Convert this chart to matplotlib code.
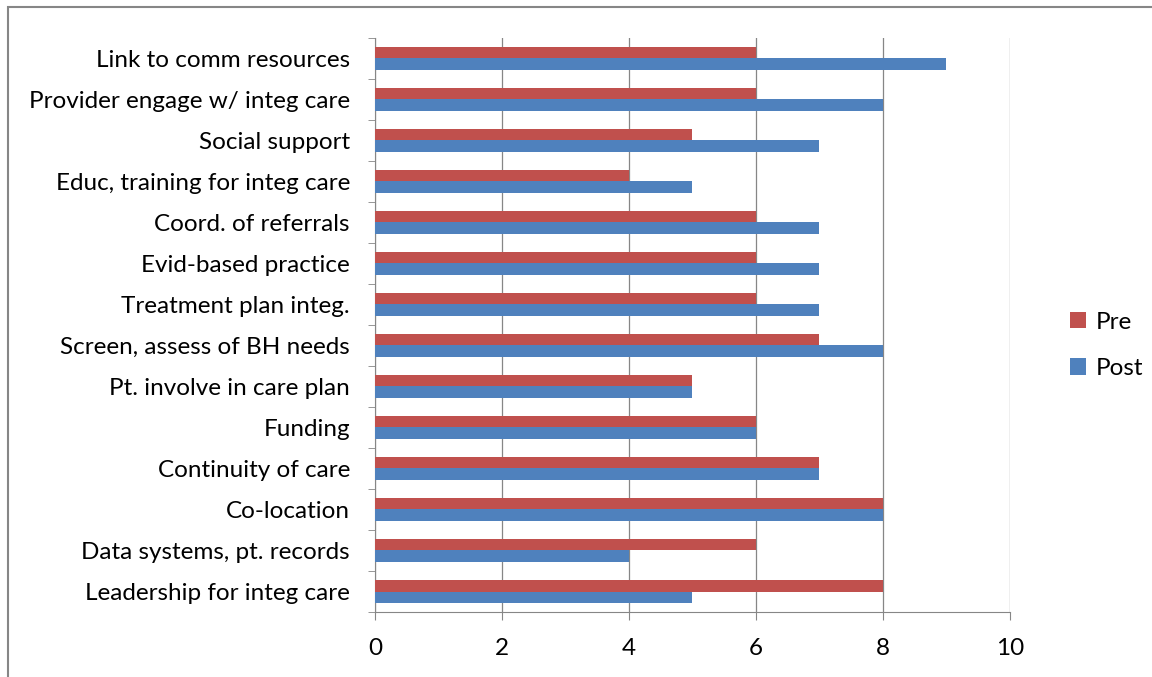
import numpy as np
import matplotlib
matplotlib.use("Agg")
import matplotlib.pyplot as plt
from matplotlib.patches import Rectangle

categories = ["Link to comm resources", "Provider engage w/ integ care", "Social support",
              "Educ, training for integ care", "Coord. of referrals", "Evid-based practice",
              "Treatment plan integ.", "Screen, assess of BH needs", "Pt. involve in care plan",
              "Funding", "Continuity of care", "Co-location", "Data systems, pt. records",
              "Leadership for integ care"]
pre = [6, 6, 5, 4, 6, 6, 6, 7, 5, 6, 7, 8, 6, 8]
post = [9, 8, 7, 5, 7, 7, 7, 8, 5, 6, 7, 8, 4, 5]
xticks = [0, 2, 4, 6, 8, 10]

plt.rcParams['font.family'] = ['Lato', 'DejaVu Sans']

fig = plt.figure(figsize=(11.52, 6.77), dpi=100)
ax = fig.add_axes([0.3255, 0.096, 0.5512, 0.848])

# bottom-up order like Excel
cats = categories[::-1]
pre_r = pre[::-1]
post_r = post[::-1]
y = np.arange(len(cats))
h = 0.28

ax.barh(y + h / 2, pre_r, height=h, color="#C0504D", label="Pre", zorder=3)
ax.barh(y - h / 2, post_r, height=h, color="#4F81BD", label="Post", zorder=3)

ax.set_xlim(0, 10)
ax.set_ylim(-0.5, len(cats) - 0.5)
ax.set_xticks(xticks)
ax.set_xticklabels([str(t) for t in xticks], fontsize=17.5)
ax.set_yticks(y)
ax.set_yticklabels(cats, fontsize=17.5)
ax.set_yticks(np.arange(-0.5, len(cats), 1), minor=True)
ax.tick_params(axis='y', which='major', length=0, pad=18)
ax.tick_params(axis='y', which='minor', length=5, color="#868686")
ax.tick_params(axis='x', length=6, color="#868686", pad=13)
ax.grid(axis='x', color="#868686", linewidth=0.9, zorder=0)

for s in ["top", "right"]:
    ax.spines[s].set_visible(False)
for s in ["left", "bottom"]:
    ax.spines[s].set_color("#868686")

handles, labels = ax.get_legend_handles_labels()
fig.legend(handles, labels, loc="center left", bbox_to_anchor=(0.91, 0.49),
           frameon=False, fontsize=17.5, handlelength=0.65, handleheight=0.65,
           labelspacing=1.05, handletextpad=0.4)

fig.patches.append(Rectangle((0.007, -0.01), 1.5, 1.0, transform=fig.transFigure,
                             fill=False, edgecolor="#868686", linewidth=1.5))

fig.savefig("out.png", dpi=100)
